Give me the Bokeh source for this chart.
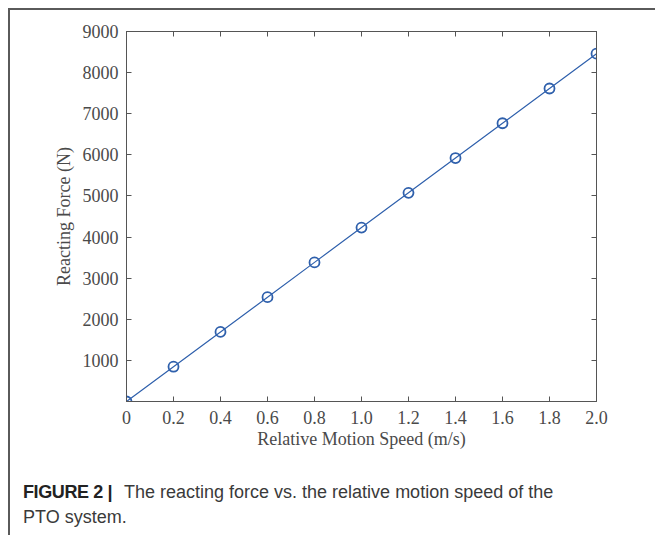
from bokeh.plotting import figure
from bokeh.layouts import column
from bokeh.models import LinearAxis, FixedTicker, Range1d, Div, CustomLabelingPolicy
from bokeh.embed import file_html
from bokeh.resources import INLINE

speed = [0.0, 0.2, 0.4, 0.6, 0.8, 1.0, 1.2, 1.4, 1.6, 1.8, 2.0]
force = [0, 846, 1692, 2538, 3384, 4230, 5076, 5922, 6768, 7614, 8460]
x_ticks = [0.0, 0.2, 0.4, 0.6, 0.8, 1.0, 1.2, 1.4, 1.6, 1.8, 2.0]
x_tick_labels = ["0", "0.2", "0.4", "0.6", "0.8", "1.0", "1.2", "1.4", "1.6", "1.8", "2.0"]
y_ticks = [1000, 2000, 3000, 4000, 5000, 6000, 7000, 8000, 9000]

OFF = 10  # outer margin + border
FL, FR, FT = 126 - OFF, 59, 30 - OFF
PW, PH = 655 - OFF, 455 - OFF
FB = PH - (401 - OFF)

p = figure(width=PW, height=PH, output_backend="svg", toolbar_location=None,
           x_range=Range1d(0, 2), y_range=Range1d(0, 9000),
           x_axis_location=None, y_axis_location=None,
           min_border_left=FL, min_border_right=FR, min_border_top=FT, min_border_bottom=FB)
p.grid.visible = False
p.outline_line_color = "#555555"
p.outline_line_width = 1

serif = "Liberation Serif"
axcol = "#555555"
hide = CustomLabelingPolicy(code="""
for (const i of indices) indices.unset(i)
return indices
""")

def style(ax, labels=True):
    ax.axis_line_color = axcol
    ax.major_tick_line_color = axcol
    ax.major_tick_in = 5
    ax.major_tick_out = 0
    ax.minor_tick_line_color = None
    ax.major_label_text_font = serif
    ax.major_label_text_font_size = "18px"
    ax.major_label_text_color = "#4a4a4a"
    ax.axis_label_text_font = serif
    ax.axis_label_text_font_size = "18px"
    ax.axis_label_text_font_style = "normal"
    ax.axis_label_text_color = "#4a4a4a"
    if not labels:
        ax.major_label_policy = hide

xb = LinearAxis(ticker=FixedTicker(ticks=x_ticks), axis_label="Relative Motion Speed (m/s)")
xb.major_label_overrides = {t: l for t, l in zip(x_ticks, x_tick_labels)}
style(xb)
xb.major_label_standoff = 9
xb.axis_label_standoff = 2
p.add_layout(xb, "below")

xt = LinearAxis(ticker=FixedTicker(ticks=x_ticks))
style(xt, labels=False)
p.add_layout(xt, "above")

yl = LinearAxis(ticker=FixedTicker(ticks=y_ticks), axis_label="Reacting Force (N)")
style(yl)
yl.major_label_standoff = 8
yl.axis_label_standoff = 6
p.add_layout(yl, "left")

yr = LinearAxis(ticker=FixedTicker(ticks=y_ticks))
style(yr, labels=False)
p.add_layout(yr, "right")

blue = "#2f60ac"
p.line(speed, force, line_color=blue, line_width=1.2)
p.scatter(speed, force, marker="circle", size=10, fill_color=None, line_color=blue, line_width=1.8)

cap = Div(text='<span style="display:inline-block;width:101px;font-weight:bold;'
               'letter-spacing:-0.4px;color:#222">FIGURE 2 |</span>'
               'The reacting force vs. the relative motion speed of the<br>PTO system.',
          width=620, height=70,
          styles={"font-family": "Liberation Sans", "font-size": "18px", "color": "#3a3a3a",
                  "line-height": "25px", "padding-left": "8px", "padding-top": "20px",
                  "white-space": "nowrap"})

root = column(p, cap, spacing=0,
              styles={"border-top": "2px solid #5a5a5a", "border-left": "2px solid #5a5a5a",
                      "margin-top": "8px", "margin-left": "8px"})

open("out.html", "w").write(file_html(root, INLINE))
